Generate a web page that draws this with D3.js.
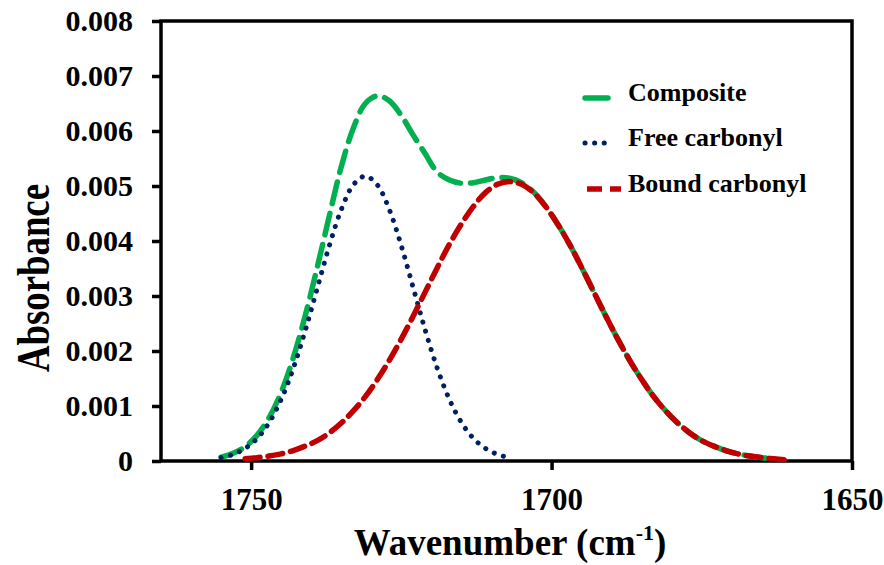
<!DOCTYPE html>
<html>
<head>
<meta charset="utf-8">
<script src="https://cdn.jsdelivr.net/npm/d3@7"></script>
<style>
  body { margin: 0; background: #fff; }
  text { font-family: "Liberation Serif", "Times New Roman", serif; font-weight: bold; fill: #000; }
</style>
</head>
<body>
<div id="chart"></div>
<script>
// Data
// ================================
var wavenumbers = [1755, 1753, 1751, 1749, 1747, 1745, 1743, 1741, 1739, 1737,
  1735, 1733, 1731, 1729, 1727, 1725, 1723, 1721, 1719, 1717,
  1715, 1713, 1711, 1709, 1707, 1705, 1703, 1701, 1699, 1697,
  1695, 1693, 1691, 1689, 1687, 1685, 1683, 1681, 1679, 1677,
  1675, 1673, 1671, 1669, 1667, 1665, 1663, 1661];

var composite = [0.00007, 0.00014, 0.00026, 0.00047, 0.00079, 0.00125, 0.00187, 0.00264, 0.00352, 0.00445,
  0.00535, 0.00605, 0.0065, 0.00664, 0.00655, 0.00628, 0.00592, 0.00558, 0.00525, 0.00511,
  0.00505, 0.00506, 0.00511, 0.00515, 0.00514, 0.00506, 0.00489, 0.00463, 0.00431, 0.00394,
  0.00352, 0.00308, 0.00264, 0.00222, 0.00183, 0.00148, 0.00117, 0.00091, 0.00069, 0.00051,
  0.00037, 0.00027, 0.00019, 0.00013, 0.00009, 0.00006, 0.00004, null];

var freeCarbonyl = [0.00006, 0.00012, 0.00023, 0.00041, 0.0007, 0.00112, 0.00168, 0.00237, 0.00314, 0.00391,
  0.00457, 0.00502, 0.00518, 0.00502, 0.00457, 0.00391, 0.00314, 0.00237, 0.00168, 0.00112,
  0.0007, 0.00041, 0.00023, 0.00012, 0.00006, null, null, null, null, null,
  null, null, null, null, null, null, null, null, null, null,
  null, null, null, null, null, null, null, null];

var boundCarbonyl = [null, null, 0.00004, 0.00006, 0.00009, 0.00013, 0.00019, 0.00027, 0.00037, 0.00051,
  0.00069, 0.00091, 0.00117, 0.00148, 0.00183, 0.00222, 0.00264, 0.00308, 0.00352, 0.00394,
  0.00431, 0.00463, 0.00488, 0.00503, 0.00508, 0.00503, 0.00488, 0.00463, 0.00431, 0.00394,
  0.00352, 0.00308, 0.00264, 0.00222, 0.00183, 0.00148, 0.00117, 0.00091, 0.00069, 0.00051,
  0.00037, 0.00027, 0.00019, 0.00013, 0.00009, 0.00006, 0.00004, 0.00002];

var xTicks = [1750, 1700, 1650];
var yTicks = [0, 0.001, 0.002, 0.003, 0.004, 0.005, 0.006, 0.007, 0.008];
var seriesNames = ["Composite", "Free carbonyl", "Bound carbonyl"];

// Set up our chart
// ================================
var svgWidth = 884;
var svgHeight = 565;

var plot = { left: 161, right: 852, top: 21, bottom: 461 };

var svg = d3
  .select("#chart")
  .append("svg")
  .attr("width", svgWidth)
  .attr("height", svgHeight);

var xScale = d3.scaleLinear().domain([1765, 1650]).range([plot.left, plot.right]);
var yScale = d3.scaleLinear().domain([0, 0.008]).range([plot.bottom, plot.top]);

// series styles
var styles = [
  { values: composite, color: "#00b050", width: 5.5, dash: "22 10", cap: "round" },
  { values: freeCarbonyl, color: "#002060", width: 5, dash: "0.1 9.5", cap: "round" },
  { values: boundCarbonyl, color: "#c00000", width: 5.5, dash: "15 8", cap: "round" },
];

// frame and axes
// =================================
svg
  .append("rect")
  .attr("x", plot.left)
  .attr("y", plot.top)
  .attr("width", plot.right - plot.left)
  .attr("height", plot.bottom - plot.top)
  .attr("fill", "none")
  .attr("stroke", "#000")
  .attr("stroke-width", 3.5);

var leftAxis = d3
  .axisLeft(yScale)
  .tickValues(yTicks)
  .tickSize(9)
  .tickPadding(19)
  .tickFormat((d) => (d === 0 ? "0" : d3.format(".3f")(d)));

var bottomAxis = d3
  .axisBottom(xScale)
  .tickValues(xTicks)
  .tickSize(9)
  .tickPadding(18)
  .tickFormat(d3.format("d"));

var yAxis = svg
  .append("g")
  .attr("transform", `translate(${plot.left}, 0)`)
  .call(leftAxis);

var xAxis = svg
  .append("g")
  .attr("transform", `translate(0, ${plot.bottom})`)
  .call(bottomAxis);

[xAxis, yAxis].forEach(function (ax) {
  ax.select(".domain").remove();
  ax.selectAll(".tick line").attr("stroke", "#000").attr("stroke-width", 3.5);
  ax.selectAll(".tick text")
    .attr("fill", "#000")
    .style("font-family", '"Liberation Serif", "Times New Roman", serif')
    .style("font-weight", "bold");
});
yAxis.selectAll(".tick text").style("font-size", "30px");
xAxis.selectAll(".tick text").style("font-size", "31px");

// curves
// =================================
var line = d3
  .line()
  .defined((d) => d[1] !== null)
  .x((d) => xScale(d[0]))
  .y((d) => yScale(d[1]))
  .curve(d3.curveCatmullRom);

styles.forEach(function (s) {
  var pts = wavenumbers.map((w, i) => [w, s.values[i]]);
  svg
    .append("path")
    .attr("d", line(pts))
    .attr("fill", "none")
    .attr("stroke", s.color)
    .attr("stroke-width", s.width)
    .attr("stroke-dasharray", s.dash)
    .attr("stroke-linecap", s.cap);
});

// legend
// =================================
var legendRows = [
  { x1: 585, x2: 608, y: 98, ty: 101 },
  { x1: 585, x2: 613, y: 143, ty: 146 },
  { x1: 587, x2: 621, y: 189, ty: 192 },
];

seriesNames.forEach(function (name, i) {
  var r = legendRows[i];
  svg
    .append("line")
    .attr("x1", r.x1)
    .attr("x2", r.x2)
    .attr("y1", r.y)
    .attr("y2", r.y)
    .attr("stroke", styles[i].color)
    .attr("stroke-width", styles[i].width)
    .attr("stroke-dasharray", i === 0 ? null : styles[i].dash)
    .attr("stroke-linecap", i === 2 ? "butt" : styles[i].cap);

  svg
    .append("text")
    .attr("x", 628)
    .attr("y", r.ty)
    .style("font-size", "26px")
    .text(name);
});

// axis titles
// =================================
var xTitle = svg
  .append("text")
  .attr("x", 510)
  .attr("y", 555)
  .attr("text-anchor", "middle")
  .style("font-size", "37px");
xTitle.append("tspan").text("Wavenumber (cm");
xTitle.append("tspan").attr("dy", -15).style("font-size", "22px").text("-1");
xTitle.append("tspan").attr("dy", 15).text(")");

svg
  .append("text")
  .attr("transform", "translate(49, 278) rotate(-90)")
  .attr("text-anchor", "middle")
  .attr("textLength", 188)
  .attr("lengthAdjust", "spacingAndGlyphs")
  .style("font-size", "46px")
  .text("Absorbance");
</script>
</body>
</html>
